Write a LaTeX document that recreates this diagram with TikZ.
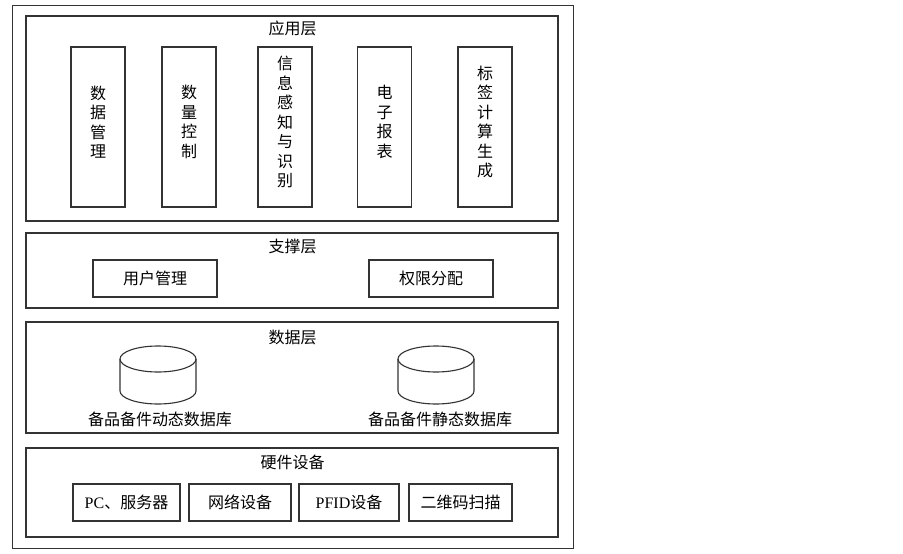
\documentclass[tikz,border=0pt]{standalone}
\usepackage{fontspec}
\setmainfont{Liberation Serif}
\newfontfamily\cjk{Noto Sans CJK SC}
\tikzset{
  frame/.style={draw=black!80, line width=1.1pt},
  layer/.style={frame, inner sep=0pt, minimum width=532pt},
  box/.style={frame, inner sep=0pt},
  txt/.style={font=\cjk\fontsize{16}{19.5}\selectfont, align=center, inner sep=0pt},
  ttl/.style={font=\cjk\fontsize{16}{19}\selectfont, inner sep=0pt},
}
\begin{document}
\begin{tikzpicture}[x=1pt, y=-1pt]
\useasboundingbox (0,0) rectangle (903,554);
% outer frame
\node[frame, inner sep=0pt, minimum width=561pt, minimum height=543pt] (outer) at (293,277) {};
% application layer
\node[layer, minimum height=205pt] (app) at (292,118.5) {};
\node[ttl] (appt) at (292.5,28) {应用层};
\foreach \n/\x/\t in {a1/98/数\\据\\管\\理, a2/189/数\\量\\控\\制, a3/285/信\\息\\感\\知\\与\\识\\别, a4/384.5/电\\子\\报\\表, a5/485/标\\签\\计\\算\\生\\成}{
  \node[box, minimum width=54pt, minimum height=160pt] (\n) at (\x,127) {};
  \node[txt] (\n t) at (\x,122) {\t};
}
% support layer
\node[layer, minimum height=75pt] (sup) at (292,270.5) {};
\node[ttl] (supt) at (292.5,246) {支撑层};
\node[box, txt, minimum width=124pt, minimum height=37pt] (s1) at (155,278.5) {用户管理};
\node[box, txt, minimum width=124pt, minimum height=37pt] (s2) at (431,278.5) {权限分配};
% data layer
\node[layer, minimum height=111pt] (dat) at (292,377.5) {};
\node[ttl] (datt) at (292.5,337) {数据层};
\foreach \n/\x in {c1/158, c2/436}{
  \coordinate (\n) at (\x,359);
  \draw[frame] (\n) ellipse[x radius=38pt, y radius=13pt];
  \draw[frame] (\n) ++(-38,0) -- ++(0,32) arc[start angle=180, end angle=360, x radius=38pt, y radius=13pt] -- ++(0,-32);
}
\node[txt] (d1) at (160,419) {备品备件动态数据库};
\node[txt] (d2) at (440,419) {备品备件静态数据库};
% hardware layer
\node[layer, minimum height=89pt] (hw) at (292,492.5) {};
\node[ttl] (hwt) at (292.5,462) {硬件设备};
\node[box, txt, minimum width=107pt, minimum height=37pt] (h1) at (126.5,502.5) {{\rmfamily PC}、服务器};
\node[box, txt, minimum width=102pt, minimum height=37pt] (h2) at (240,502.5) {网络设备};
\node[box, txt, minimum width=100pt, minimum height=37pt] (h3) at (349,502.5) {{\rmfamily PFID}设备};
\node[box, txt, minimum width=103pt, minimum height=37pt] (h4) at (460.5,502.5) {二维码扫描};
\end{tikzpicture}
\end{document}
